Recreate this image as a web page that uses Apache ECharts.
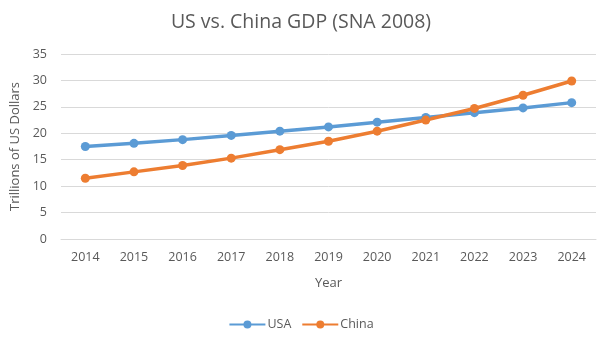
<!DOCTYPE html>
<html><head><meta charset="utf-8">
<script src="https://cdn.jsdelivr.net/npm/echarts@6/dist/echarts.min.js"></script>
<style>html,body{margin:0;padding:0;background:#fff}#c{width:602px;height:337px}</style>
</head><body><div id="c"></div>
<script>
const years = ['2014','2015','2016','2017','2018','2019','2020','2021','2022','2023','2024'];
const usa = [17.5, 18.1, 18.8, 19.6, 20.4, 21.2, 22.1, 23.0, 23.9, 24.8, 25.8];
const china = [11.5, 12.7, 13.9, 15.3, 16.9, 18.5, 20.4, 22.5, 24.7, 27.2, 29.9];
const yTicks = [0, 5, 10, 15, 20, 25, 30, 35];
const font = '"Open Sans", sans-serif';
const chart = echarts.init(document.getElementById('c'), null, {renderer: 'canvas'});
chart.setOption({
  animation: false,
  backgroundColor: '#fff',
  title: {text: 'US vs. China GDP (SNA 2008)', left: 'center', top: 7,
    textStyle: {fontFamily: font, fontSize: 19.5, fontWeight: 'normal', color: '#595959'}},
  legend: {bottom: 1, left: 'center', itemWidth: 36, itemHeight: 10, itemGap: 10,
    textStyle: {fontFamily: font, fontSize: 12.5, color: '#595959', padding: [0, 0, 0, -3]},
    data: ['USA', 'China']},
  grid: {left: 61, right: 6, top: 54, bottom: 98},
  xAxis: {type: 'category', data: years, boundaryGap: true,
    name: 'Year', nameLocation: 'middle', nameGap: 38,
    nameTextStyle: {fontFamily: font, fontSize: 13, color: '#595959'},
    axisLine: {show: true, lineStyle: {color: '#d9d9d9'}}, axisTick: {show: false},
    axisLabel: {fontFamily: font, fontSize: 12.5, color: '#595959', margin: 12}},
  yAxis: {type: 'value', min: yTicks[0], max: yTicks[yTicks.length-1], interval: 5,
    name: 'Trillions of US Dollars', nameLocation: 'middle', nameGap: 38,
    nameTextStyle: {fontFamily: font, fontSize: 13, color: '#595959'},
    axisLine: {show: false}, axisTick: {show: false},
    axisLabel: {fontFamily: font, fontSize: 12.5, color: '#595959', margin: 14},
    splitLine: {lineStyle: {color: '#d9d9d9', width: 1}}},
  series: [
    {name: 'USA', type: 'line', data: usa, color: '#5B9BD5', symbol: 'circle', symbolSize: 9,
      lineStyle: {width: 3.5}},
    {name: 'China', type: 'line', data: china, color: '#ED7D31', symbol: 'circle', symbolSize: 9,
      lineStyle: {width: 3.5}}
  ]
});
</script></body></html>
